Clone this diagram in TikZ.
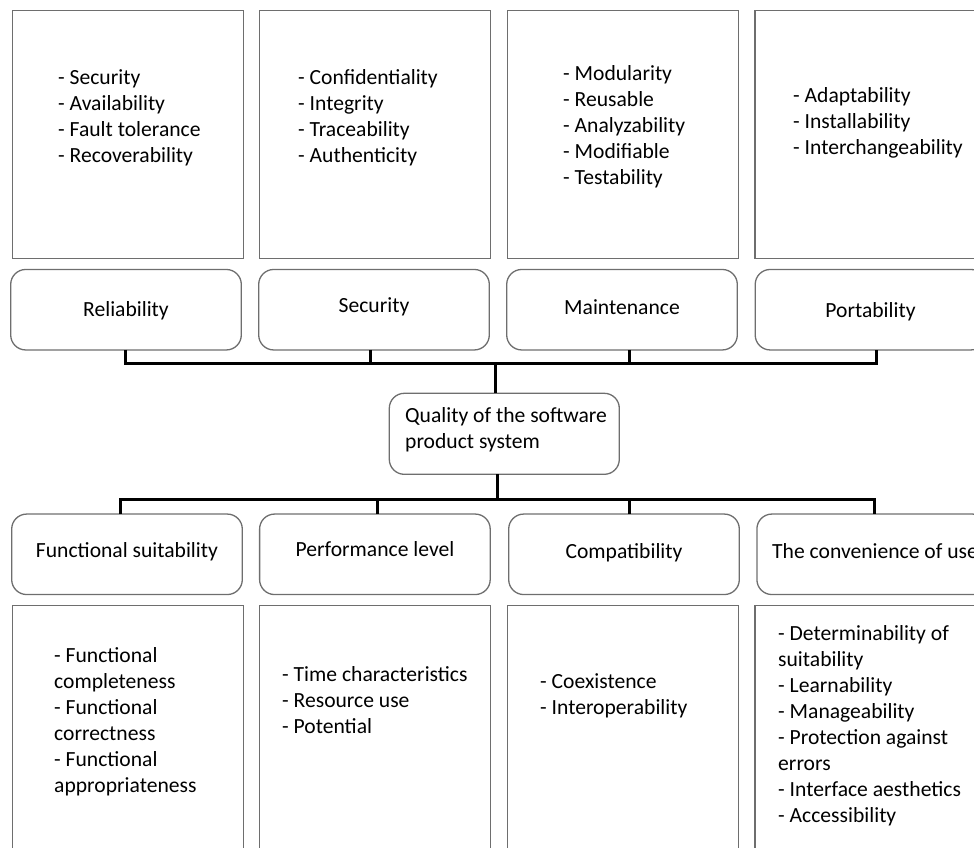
\documentclass[tikz,border=0pt]{standalone}
\usepackage{fontspec}
\setmainfont{Carlito}
\definecolor{boxgray}{RGB}{110,110,110}
\begin{document}
\begin{tikzpicture}[x=1pt,y=-1pt,
  every node/.style={font=\fontsize{21.6}{26}\selectfont},
  listbox/.style={draw=boxgray,line width=1.3pt,minimum width=231pt,minimum height=248pt,inner sep=0pt,outer sep=0pt},
  catbox/.style={draw=boxgray,line width=1.3pt,rounded corners=15pt,minimum width=230.6pt,minimum height=80.5pt,inner sep=0pt,outer sep=0pt,text height=15pt,text depth=#1},
  catbox/.default=5pt,
  listtext/.style={align=left,anchor=north west,inner sep=0pt},
  conn/.style={line width=3pt,black}]
\useasboundingbox (0,0) rectangle (974,847);
\clip (0,0) rectangle (974,847);
% top list boxes
\node[listbox] (L1) at (127.8,134.7) {};
\node[listbox] (L2) at (375,134.7) {};
\node[listbox] (L3) at (623,134.7) {};
\node[listbox] (L4) at (870.5,134.7) {};
\node[listtext] (T1) at (58,65.8) {\strut- Security\\- Availability\\- Fault tolerance\\- Recoverability};
\node[listtext] (T2) at (298,65.8) {\strut- Confidentiality\\- Integrity\\- Traceability\\- Authenticity};
\node[listtext] (T3) at (563,61.8) {\strut- Modularity\\- Reusable\\- Analyzability\\- Modifiable\\- Testability};
\node[listtext] (T4) at (793,83.8) {\strut- Adaptability\\- Installability\\- Interchangeability};
% top categories
\node[catbox=2.4pt] (rel) at (126,309.7) {Reliability};
\node[catbox=10.4pt] (sec) at (374,309.7) {Security};
\node[catbox=6.4pt] (mnt) at (622,309.7) {Maintenance};
\node[catbox=0.4pt] (por) at (870.5,309.7) {Portability};
% central
\node[draw=boxgray,line width=1.3pt,rounded corners=15pt,minimum width=230pt,minimum height=81pt,inner sep=0pt,outer sep=0pt] (Q) at (504.3,433.8) {};
\node[listtext] (QT) at (405,403.8) {\strut Quality of the software\\product system};
% bottom categories
\node[catbox=9.6pt] (fun) at (127,554.3) {Functional suitability};
\node[catbox=11.6pt] (per) at (374.9,554.3) {Performance level};
\node[catbox=7.6pt] (com) at (624,554.3) {Compatibility};
\node[catbox] (con) at (872.2,554.3) {};
\node[anchor=west,inner sep=0pt] (conT) at (772,551) {The convenience of use};
% bottom list boxes
\node[listbox] (B1) at (127.8,729.7) {};
\node[listbox] (B2) at (375,729.7) {};
\node[listbox] (B3) at (623,729.7) {};
\node[listbox] (B4) at (870.5,729.7) {};
\node[listtext] (U1) at (54,643.8) {\strut- Functional\\completeness\\- Functional\\correctness\\- Functional\\appropriateness};
\node[listtext] (U2) at (282,662.8) {\strut- Time characteristics\\- Resource use\\- Potential};
\node[listtext] (U3) at (540,669.8) {\strut- Coexistence\\- Interoperability};
\node[listtext] (U4) at (778,621.8) {\strut- Determinability of\\suitability\\- Learnability\\- Manageability\\- Protection against\\errors\\- Interface aesthetics\\- Accessibility};
% connectors top
\coordinate (tb) at (495,363.3);
\coordinate (relD) at ([xshift=-1pt]rel.south);
\coordinate (secD) at ([xshift=-3.7pt]sec.south);
\coordinate (mntD) at ([xshift=7.3pt]mnt.south);
\coordinate (porD) at ([xshift=6.2pt]por.south);
\draw[conn] (relD) |- (tb) -| (porD);
\draw[conn] (secD) -- (secD |- tb);
\draw[conn] (mntD) -- (mntD |- tb);
\draw[conn] (tb) -- (tb |- Q.north);
% connectors bottom
\coordinate (bb) at (497.7,499.3);
\coordinate (funD) at ([xshift=-6.3pt]fun.north);
\coordinate (perD) at ([xshift=2.8pt]per.north);
\coordinate (comD) at ([xshift=5.3pt]com.north);
\coordinate (conD) at ([xshift=1.8pt]con.north);
\draw[conn] (bb |- Q.south) -- (bb);
\draw[conn] (funD) |- (bb) -| (conD);
\draw[conn] (perD) -- (perD |- bb);
\draw[conn] (comD) -- (comD |- bb);
\end{tikzpicture}
\end{document}
